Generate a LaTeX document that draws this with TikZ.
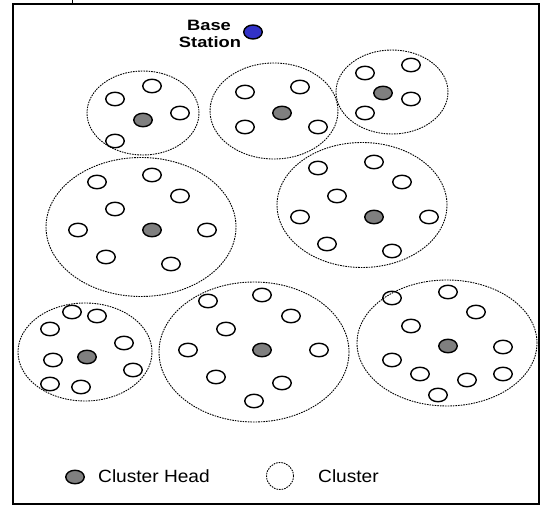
\documentclass[tikz,border=0pt]{standalone}
\usepackage{fontspec}
\setmainfont{Liberation Sans}
\usetikzlibrary{shapes.geometric}
\definecolor{chgray}{HTML}{7F7F7F}
\definecolor{bsblue}{HTML}{3232C8}
\begin{document}
\begin{tikzpicture}[x=1pt,y=-1pt,
  sensor/.style={ellipse,draw,line width=1.4pt,minimum width=18.5pt,minimum height=13.5pt,inner sep=0pt},
  chead/.style={sensor,fill=chgray},
  bstation/.style={sensor,fill=bsblue,minimum height=14pt},
  cluster/.style={ellipse,draw,line width=0.9pt,dash pattern=on 1.6pt off 1pt,inner sep=0pt},
  frame/.style={draw,line width=1.5pt},
  lbl/.style={inner sep=0pt,anchor=base west},
  bslbl/.style={inner sep=0pt,anchor=base,font=\bfseries\fontsize{15}{17}\selectfont}
]
\useasboundingbox (0,0) rectangle (541,505);
\draw[frame] (13,4) rectangle (539,504);
\coordinate (tk1) at (72,0); \coordinate (tk2) at (72,4);
\draw[line width=1pt] (tk1) -- (tk2);
% clusters
\node[cluster,minimum width=112pt,minimum height=84pt] (c1) at (143,113) {};
\node[cluster,minimum width=128pt,minimum height=96pt] (c2) at (274,111) {};
\node[cluster,minimum width=112pt,minimum height=84pt] (c3) at (392,92) {};
\node[cluster,minimum width=190pt,minimum height=139pt] (c4) at (141,227) {};
\node[cluster,minimum width=170pt,minimum height=125pt] (c5) at (362,205) {};
\node[cluster,minimum width=134pt,minimum height=98pt] (c6) at (85,352) {};
\node[cluster,minimum width=190pt,minimum height=140pt] (c7) at (254,352) {};
\node[cluster,minimum width=180pt,minimum height=126pt] (c8) at (447,343) {};
% cluster heads
\node[chead] (h1) at (143,120) {};
\node[chead] (h2) at (282,113) {};
\node[chead] (h3) at (383,93) {};
\node[chead] (h4) at (152,230) {};
\node[chead] (h5) at (374,217) {};
\node[chead] (h6) at (87,357) {};
\node[chead] (h7) at (262,350) {};
\node[chead] (h8) at (448,346) {};
% sensor nodes
\foreach \n/\x/\y in {
  a1/152/86, a2/115/99, a3/180/113, a4/115/141,
  b1/245/92, b2/300/87, b3/245/127, b4/318/127,
  d1/365/73, d2/411/65, d3/411/99, d4/365/113,
  e1/97/182, e2/152/175, e3/180/196, e4/115/209, e5/78/230, e6/207/230, e7/106/257, e8/171/264,
  f1/318/168, f2/374/162, f3/402/182, f4/337/196, f5/300/217, f6/429/217, f7/327/244, f8/392/251,
  g1/72/312, g2/97/316, g3/50/329, g4/124/343, g5/53/360, g6/133/370, g7/50/384, g8/81/387,
  k1/208/301, k2/262/295, k3/291/316, k4/226/329, k5/188/350, k6/319/350, k7/216/377, k8/282/383, k9/254/401,
  m1/392/298, m2/448/292, m3/476/312, m4/411/326, m5/503/347, m6/392/360, m7/420/374, m8/467/380, m9/503/374, m10/438/395}
  \node[sensor] (\n) at (\x,\y) {};
% base station
\node[bstation] (bs) at (253,32) {};
\node[bslbl] (bst1) at (209,31) {\scalebox{1.22}[1]{Base}};
\node[bslbl] (bst2) at (210,48) {\scalebox{1.22}[1]{Station}};
% legend
\node[chead] (lh) at (75,477) {};
\node[lbl,font=\fontsize{17.7}{20}\selectfont] (lht) at (98,482) {\scalebox{1.08}[1]{Cluster Head}};
\node[cluster,circle,minimum size=27pt] (lc) at (280,476) {};
\node[lbl,font=\fontsize{17.7}{20}\selectfont] (lct) at (318,482) {\scalebox{1.08}[1]{Cluster}};
\end{tikzpicture}
\end{document}
